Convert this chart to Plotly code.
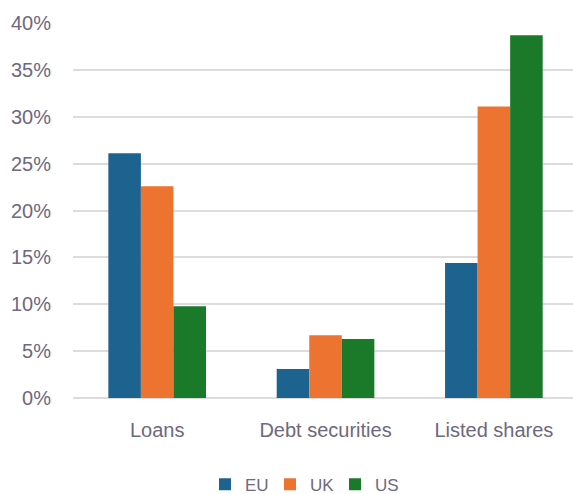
import plotly.graph_objects as go

# Share of financing by instrument type
categories = ["Loans", "Debt securities", "Listed shares"]
eu_values = [26.1, 3.1, 14.4]
uk_values = [22.6, 6.7, 31.1]
us_values = [9.8, 6.3, 38.7]
y_ticks = [0, 5, 10, 15, 20, 25, 30, 35, 40]
y_tick_labels = [f"{v}%" for v in y_ticks]

series = [
    ("EU", eu_values, "#1d6390"),
    ("UK", uk_values, "#ec7430"),
    ("US", us_values, "#1a7a2a"),
]

text_color = "#6e6880"
font_family = "Liberation Sans, Arial, sans-serif"

fig = go.Figure()
for name, vals, color in series:
    fig.add_trace(go.Bar(
        name=name,
        x=categories,
        y=vals,
        marker=dict(color=color, line=dict(width=0)),
    ))

fig.update_layout(
    width=573,
    height=494,
    barmode="group",
    bargap=0.42,
    bargroupgap=0,
    plot_bgcolor="white",
    paper_bgcolor="white",
    margin=dict(l=73, r=0, t=23, b=96, autoexpand=False),
    font=dict(family=font_family, color=text_color, size=18),
    showlegend=True,
    legend=dict(
        orientation="h",
        x=0.264,
        xanchor="left",
        y=-0.231,
        yanchor="middle",
        font=dict(size=17, color=text_color),
        itemwidth=30,
        entrywidth=20,
        entrywidthmode="pixels",
        traceorder="normal",
    ),
    xaxis=dict(
        type="category",
        range=[-0.5, 2.47],
        showgrid=False,
        showline=False,
        ticks="",
        ticklabelstandoff=18,
        tickfont=dict(size=20, color=text_color),
    ),
    yaxis=dict(
        range=[0, 40],
        tickvals=y_ticks,
        ticktext=y_tick_labels,
        showgrid=True,
        gridcolor="#dcdcdc",
        gridwidth=1.5,
        zeroline=True,
        zerolinecolor="#dcdcdc",
        zerolinewidth=1.5,
        showline=False,
        ticks="",
        ticklabelstandoff=21,
        tickfont=dict(size=20, color=text_color),
    ),
)

fig.write_html("out.html")
